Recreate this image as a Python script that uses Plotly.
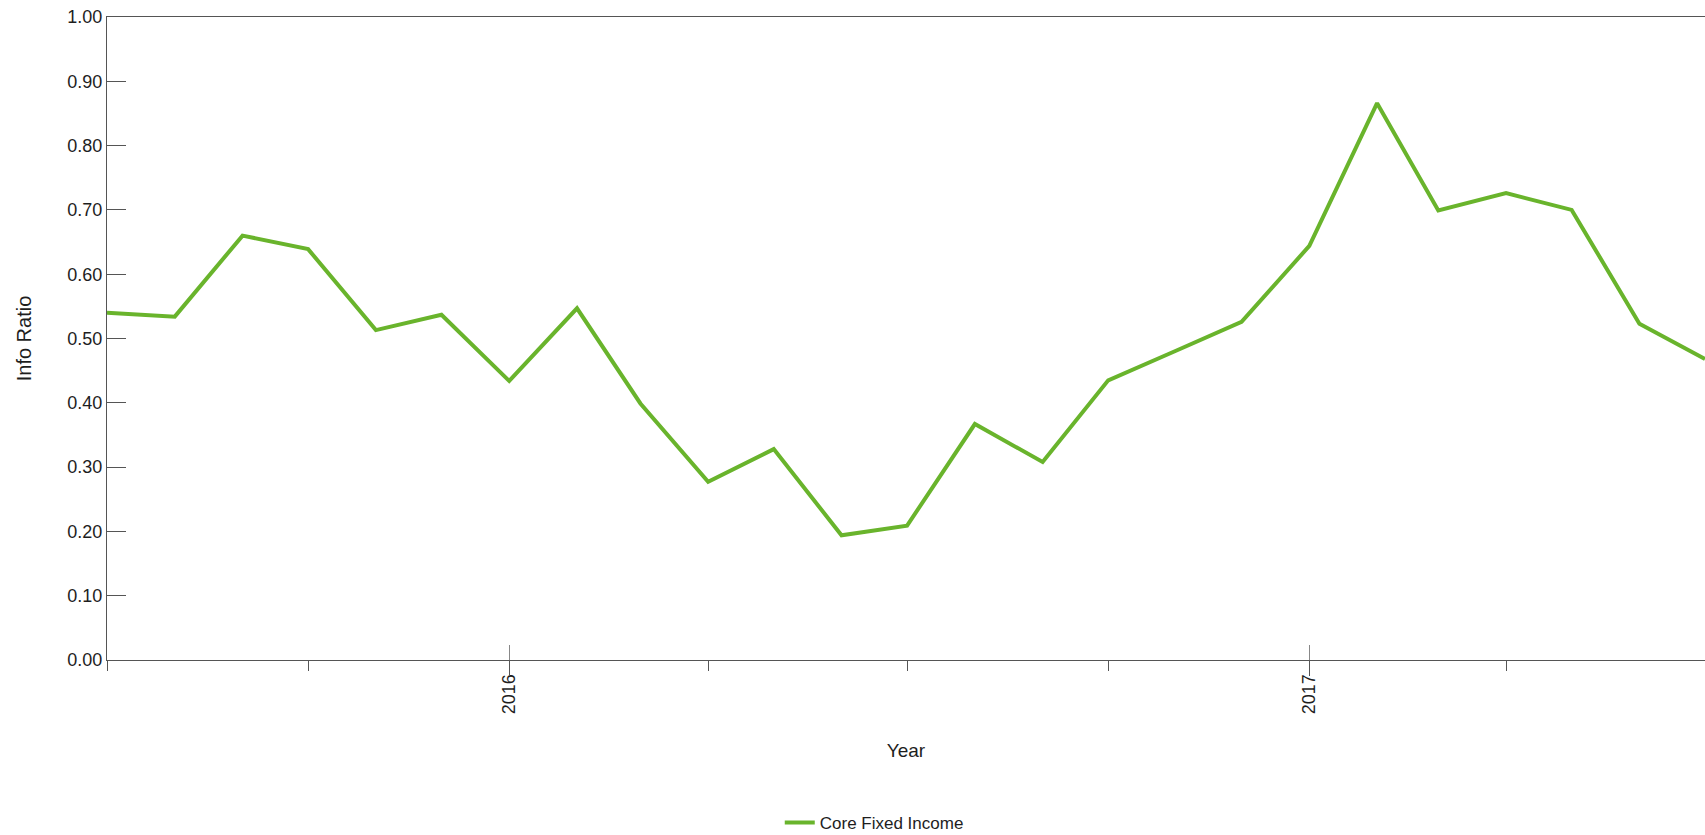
import plotly.graph_objects as go

months = ["2015-07-01", "2015-08-01", "2015-09-01", "2015-10-01", "2015-11-01", "2015-12-01",
          "2016-01-01", "2016-02-01", "2016-03-01", "2016-04-01", "2016-05-01", "2016-06-01",
          "2016-07-01", "2016-08-01", "2016-09-01", "2016-10-01", "2016-11-01", "2016-12-01",
          "2017-01-01", "2017-02-01", "2017-03-01", "2017-04-01", "2017-05-01", "2017-06-01",
          "2017-07-01"]
info_ratio = [0.540, 0.534, 0.660, 0.639, 0.513, 0.537,
              0.434, 0.547, 0.399, 0.277, 0.328, 0.194,
              0.209, 0.367, 0.308, 0.435, 0.481, 0.526,
              0.644, 0.866, 0.699, 0.726, 0.700, 0.523,
              0.468]
series_name = "Core Fixed Income"
year_ticks = ["2016-01-01", "2017-01-01"]
year_labels = ["2016", "2017"]
y_ticks = [0.0, 0.1, 0.2, 0.3, 0.4, 0.5, 0.6, 0.7, 0.8, 0.9, 1.0]

FONT = "Liberation Sans, Arial, sans-serif"
AXIS = "#555555"
TEXT = "#1e1e1e"
GREEN = "#69b42c"

fig = go.Figure()
fig.add_trace(go.Scatter(x=months, y=info_ratio, mode="lines", name=series_name,
                         line=dict(color=GREEN, width=4)))
# invisible companion traces so the overlay axes (year tick marks) are drawn
for ax in ("x2", "x3"):
    fig.add_trace(go.Scatter(x=months, y=info_ratio, mode="lines", xaxis=ax,
                             line=dict(color="rgba(0,0,0,0)", width=0), showlegend=False,
                             hoverinfo="skip"))

fig.update_layout(
    width=1705, height=835,
    margin=dict(l=107, r=0, t=17, b=175, autoexpand=False),
    paper_bgcolor="white", plot_bgcolor="white",
    font=dict(family=FONT, size=18, color=TEXT),
    showlegend=True,
    legend=dict(orientation="h", xref="paper", yref="paper",
                x=0.421, y=-0.2535, xanchor="left", yanchor="middle",
                font=dict(family=FONT, size=17, color=TEXT)),
    xaxis=dict(
        type="date", range=[months[0], months[-1]],
        tickmode="array", tickvals=year_ticks, ticktext=year_labels,
        tickangle=-90, ticks="outside", ticklen=6, tickcolor=AXIS, tickwidth=1,
        minor=dict(ticks="outside", ticklen=10, dtick="M3", tick0=months[0],
                   tickcolor=AXIS, showgrid=False),
        showgrid=False, zeroline=False,
        showline=True, linecolor=AXIS, linewidth=1, mirror=True,
        tickfont=dict(family=FONT, size=18, color=TEXT),
        title=dict(text="Year", standoff=30, font=dict(family=FONT, size=19, color=TEXT)),
        automargin=False,
    ),
    xaxis2=dict(
        type="date", overlaying="x", matches="x", anchor="y", side="bottom",
        tickmode="array", tickvals=year_ticks, ticks="inside", ticklen=15,
        tickcolor="#888888", showticklabels=False, showgrid=False, zeroline=False,
        showline=False, automargin=False,
    ),
    xaxis3=dict(
        type="date", overlaying="x", matches="x", anchor="y", side="bottom",
        tickmode="array", tickvals=year_ticks, ticks="outside", ticklen=15,
        tickcolor=AXIS, showticklabels=False, showgrid=False, zeroline=False,
        showline=False, automargin=False,
    ),
    yaxis=dict(
        range=[0, 1], tickmode="array", tickvals=y_ticks, tickformat=".2f",
        ticks="inside", ticklen=19, tickcolor=AXIS, tickwidth=1,
        ticklabeloverflow="allow",
        showgrid=False, zeroline=False, showline=True, linecolor=AXIS, linewidth=1,
        tickfont=dict(family=FONT, size=18, color=TEXT),
        title=dict(text="Info Ratio", standoff=30, font=dict(family=FONT, size=20, color=TEXT)),
        automargin=False,
    ),
)

fig.write_html("out.html", config={"displayModeBar": False},
               post_script="document.body.style.margin='0';document.body.style.overflow='hidden';")
